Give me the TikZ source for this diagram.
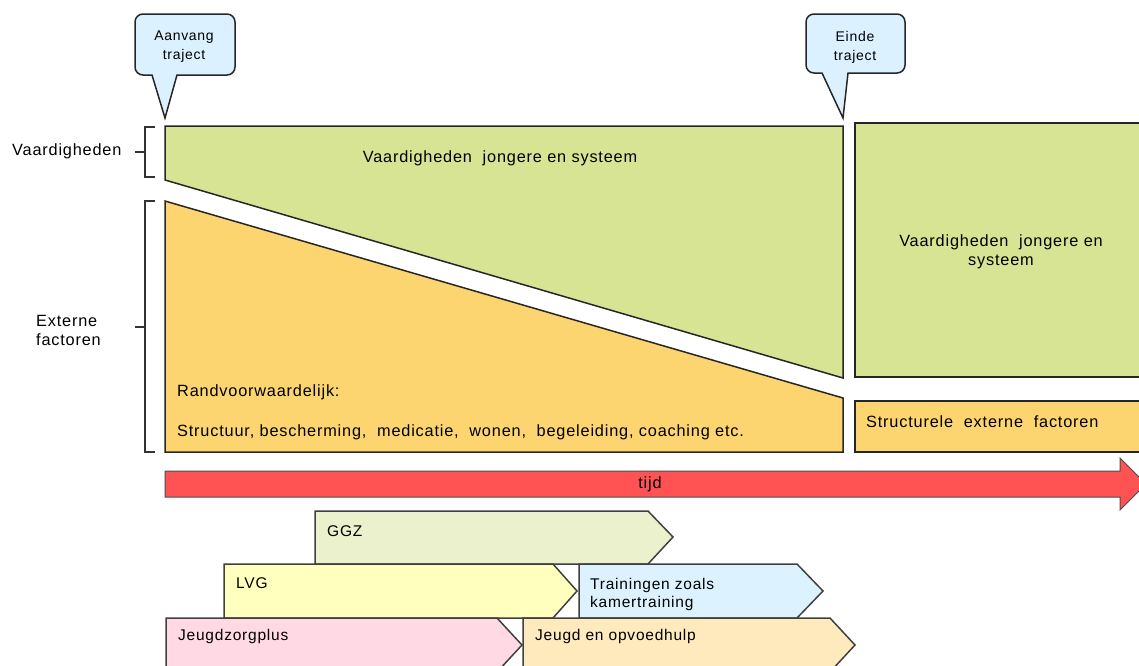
\documentclass[tikz,border=0pt]{standalone}
\usepackage{fontspec}
\setmainfont[LetterSpace=5]{Liberation Sans}
\tikzstyle{every node}=[inner sep=0pt, font=\fontsize{16.3}{19}\selectfont]
\tikzstyle{block}=[draw=black!85, line width=1.5pt]
\tikzstyle{chevron}=[draw=black!75, line width=1.5pt]
\tikzstyle{brace}=[draw=black!80, line width=1.2pt]
\tikzstyle{small}=[font=\fontsize{14}{19}\selectfont]
\tikzstyle{label}=[anchor=west, font=\fontsize{15.5}{18}\selectfont]
\definecolor{skills}{RGB}{215,228,148}
\definecolor{external}{RGB}{252,213,112}
\definecolor{timeline}{RGB}{255,82,82}
\definecolor{callout}{RGB}{219,241,255}
\definecolor{ggz}{RGB}{235,241,204}
\definecolor{lvg}{RGB}{255,255,190}
\definecolor{training}{RGB}{220,242,255}
\definecolor{jeugdzorg}{RGB}{255,218,228}
\definecolor{opvoedhulp}{RGB}{255,234,190}
\begin{document}
\begin{tikzpicture}[x=1pt, y=-1pt]
            \useasboundingbox (0, 0) rectangle (1139, 665);
            \clip (0, 0) rectangle (1139, 665);

            % callouts
            \draw [block, fill=callout] (165, 118) -- (152, 75) -- (143, 75)
                arc[start angle=90, end angle=180, radius=8] -- (135, 22)
                arc[start angle=180, end angle=270, radius=8] -- (227, 14)
                arc[start angle=270, end angle=360, radius=8] -- (235, 67)
                arc[start angle=0, end angle=90, radius=8] -- (177, 75) -- cycle;
            \node[small, align=center] (aanvang) at (184, 47) {Aanvang\\traject};
            \draw [block, fill=callout] (843, 118) -- (822, 73) -- (814, 73)
                arc[start angle=90, end angle=180, radius=8] -- (806, 22)
                arc[start angle=180, end angle=270, radius=8] -- (897, 14)
                arc[start angle=270, end angle=360, radius=8] -- (905, 65)
                arc[start angle=0, end angle=90, radius=8] -- (848, 73) -- cycle;
            \node[small, align=center] (einde) at (855, 47) {Einde\\traject};

            % vaardigheden en externe factoren
            \draw [block, fill=skills] (165, 126) -- (843, 126) -- (843, 378) -- (165, 180) -- cycle;
            \node (vaardig) at (500, 158) {Vaardigheden\ \ jongere en systeem};
            \draw [block, fill=external] (165, 201) -- (843, 398) -- (843, 452) -- (165, 452) -- cycle;
            \node[anchor=west] (randvoorw) at (177, 392) {Randvoorwaardelijk:};
            \node[anchor=west] (structuur) at (177, 432)
                {Structuur,\ bescherming,\ \ medicatie,\ \ wonen,\ \ begeleiding,\ coaching etc.};
            \draw [block, fill=skills] (855, 123) rectangle (1150, 377);
            \node[align=center] (vaardigna) at (1001, 252) {Vaardigheden\ \ jongere en\\systeem};
            \draw [block, fill=external] (855, 401) rectangle (1150, 452);
            \node[anchor=west] (structureel) at (866, 422) {Structurele\ \ externe\ \ factoren};

            % accolades
            \draw [brace] (155, 127) -- (145, 127) -- (145, 177) -- (155, 177);
            \draw [brace] (145, 152) -- (135, 152);
            \node[anchor=west] (lblvaardig) at (12, 151) {Vaardigheden};
            \draw [brace] (155, 201) -- (145, 201) -- (145, 452) -- (155, 452);
            \draw [brace] (145, 327) -- (135, 327);
            \node[anchor=west, align=left] (lblextern) at (36, 330) {Externe\\factoren};

            % tijdlijn
            \draw [draw=black!70, line width=1pt, fill=timeline] (165, 471) -- (1120, 471) -- (1120, 458)
                -- (1146, 484) -- (1120, 510) -- (1120, 497) -- (165, 497) -- cycle;
            \node (tijd) at (650, 484) {tijd};

            % hulpvormen
            \draw [chevron, fill=ggz] (315, 511) -- (648, 511) -- (673, 537) -- (648, 564) -- (315, 564) -- cycle;
            \node[label] (ggz) at (327, 531) {GGZ};
            \draw [chevron, fill=lvg] (224, 564) -- (553, 564) -- (577, 591) -- (553, 618) -- (224, 618) -- cycle;
            \node[label] (lvg) at (236, 583) {LVG};
            \draw [chevron, fill=training] (579, 564) -- (797, 564) -- (823, 591) -- (797, 618) -- (579, 618) -- cycle;
            \node[label, align=left] (training) at (590, 594) {Trainingen zoals\\kamertraining};
            \draw [chevron, fill=jeugdzorg] (166, 618) -- (497, 618) -- (522, 645) -- (497, 672) -- (166, 672) -- cycle;
            \node[label] (jeugdzorg) at (178, 636) {Jeugdzorgplus};
            \draw [chevron, fill=opvoedhulp] (523, 618) -- (830, 618) -- (855, 645) -- (830, 672) -- (523, 672) -- cycle;
            \node[label] (opvoedhulp) at (535, 636) {Jeugd en opvoedhulp};
        \end{tikzpicture}
\end{document}
